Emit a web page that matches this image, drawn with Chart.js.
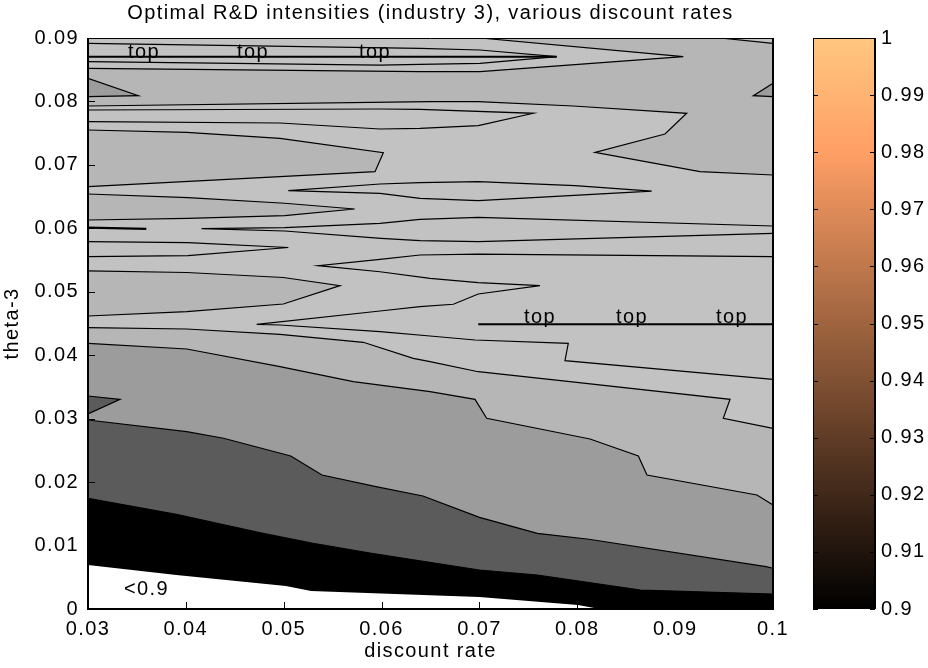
<!DOCTYPE html>
<html>
<head>
<meta charset="utf-8">
<title>Optimal R&amp;D intensities (industry 3)</title>
<script src="https://cdn.jsdelivr.net/npm/chart.js@4.4.1/dist/chart.umd.min.js"></script>
<style>
  html, body { margin: 0; padding: 0; background: #fff; }
  #wrap { position: relative; width: 928px; height: 668px; }
  #wrap canvas { position: absolute; left: 0; top: 0; }
</style>
</head>
<body>
<div id="wrap">
  <canvas id="contour" width="928" height="668"></canvas>
  <canvas id="colorbar" width="928" height="668"></canvas>
</div>
<script>
// axis ticks
const xTicks = [0.03, 0.04, 0.05, 0.06, 0.07, 0.08, 0.09, 0.1];
const yTicks = [0, 0.01, 0.02, 0.03, 0.04, 0.05, 0.06, 0.07, 0.08, 0.09];
const cbTicks = [0.9, 0.91, 0.92, 0.93, 0.94, 0.95, 0.96, 0.97, 0.98, 0.99, 1];

// contour lines, [discount rate, theta-3]
const bandL1 = [[0.03,0.00694],[0.03903,0.00536],[0.05023,0.00363],[0.05279,0.00284],[0.07,0.00189],[0.08007,0.00063],[0.0823,0]];
const bandL2 = [[0.03,0.01745],[0.03903,0.01493],[0.04752,0.01203],[0.05299,0.01036],[0.05897,0.00878],[0.07,0.00615],[0.07592,0.00536],[0.08646,0.00299],[0.1,0.00236]];
const bandL3 = [[0.03,0.02979],[0.04009,0.02795],[0.04385,0.02691],[0.05072,0.02412],[0.05391,0.02112],[0.05943,0.01928],[0.06423,0.01781],[0.07,0.01445],[0.07592,0.01193],[0.0812,0.01099],[0.09929,0.00667],[0.1,0.00642]];
const dipL3 = [[0.03,0.03357],[0.03327,0.03305],[0.03,0.03074]];
const bandL4 = [[0.03,0.04188],[0.04009,0.04098],[0.04962,0.03819],[0.05711,0.03583],[0.06495,0.03425],[0.06955,0.03305],[0.07074,0.03006],[0.0813,0.0268],[0.08624,0.02412],[0.08712,0.02112],[0.09836,0.01797],[0.1,0.01639]];
const bandL5 = [[0.03,0.04434],[0.04009,0.04413],[0.04962,0.0433],[0.05813,0.04204],[0.06324,0.03951],[0.06495,0.03898],[0.06988,0.0374],[0.07925,0.03583],[0.09561,0.03305],[0.09492,0.03006],[0.1,0.02848]];
const tongueD = [[0.03,0.05328],[0.04009,0.05304],[0.04996,0.05225],[0.05575,0.05096],[0.04996,0.04807],[0.04009,0.04686],[0.03,0.04618]];
const tongueE = [[0.03,0.05789],[0.04022,0.05774],[0.05047,0.05698],[0.04022,0.05569],[0.03,0.05553]];
const stubF = [[0.03,0.0601],[0.03596,0.0599]];
const tongueG = [[0.03,0.06541],[0.04022,0.06483],[0.0501,0.06395],[0.05725,0.06305],[0.0501,0.06199],[0.04022,0.06158],[0.03,0.06131]];
const tongueI = [[0.03,0.0755],[0.04009,0.07514],[0.04962,0.07419],[0.06018,0.07192],[0.05933,0.06893],[0.04962,0.06814],[0.03,0.06656]];
const tongueJ = [[0.03,0.07865],[0.05984,0.07881],[0.06393,0.07876],[0.07551,0.07813],[0.06988,0.07618],[0.06393,0.07577],[0.05984,0.07566],[0.04962,0.0766],[0.03,0.07681]];
const lineK = [[0.03,0.07928],[0.06495,0.07996],[0.06988,0.07996],[0.07959,0.07928],[0.09118,0.07813],[0.08896,0.07487],[0.08181,0.07198],[0.09254,0.06893],[0.1,0.06841]];
const outerTongue = [[0.07006,0.09],[0.09083,0.08705],[0.07006,0.08469],[0.06393,0.08469],[0.03,0.08522]];
const innerTongue = [[0.03,0.08916],[0.06393,0.08838],[0.07006,0.08811],[0.0779,0.08705],[0.07006,0.08601],[0.06393,0.08585],[0.05984,0.08574],[0.03,0.08627]];
const cornerTR = [[0.09458,0.09],[0.1,0.08916]];
const dipTopLeft = [[0.03,0.08365],[0.03514,0.08091],[0.03,0.08075]];
const dipTopRight = [[0.1,0.08286],[0.09799,0.08091],[0.1,0.08075]];
const lensH = [[0.05047,0.06593],[0.05984,0.06699],[0.06393,0.06719],[0.06988,0.06735],[0.07977,0.06672],[0.0876,0.06588],[0.06988,0.06436],[0.06393,0.06473],[0.05984,0.06552],[0.05047,0.06593]];
const tongueF = [[0.1,0.06037],[0.06988,0.06174],[0.06393,0.06142],[0.05984,0.06079],[0.0501,0.0601],[0.0416,0.05995],[0.0501,0.05958],[0.05994,0.05843],[0.06393,0.05805],[0.06988,0.05789],[0.1,0.05922]];
const snakeC = [[0.1,0.05553],[0.06988,0.05595],[0.06393,0.0558],[0.05984,0.05512],[0.05353,0.05411],[0.05984,0.05316],[0.06495,0.05212],[0.06988,0.05143],[0.07619,0.05096],[0.06988,0.04965],[0.06733,0.04803],[0.06393,0.04765],[0.05984,0.04697],[0.04724,0.04487],[0.04962,0.04476],[0.05984,0.04371],[0.06495,0.04303],[0.06955,0.0424],[0.07908,0.04188],[0.07874,0.03914],[0.1,0.0362]];
const topUpper = [[0.03,0.08705],[0.0779,0.08705]];
const topLower = [[0.06988,0.04487],[0.1,0.04487]];

// inline contour labels
const levelLabels = [
  [0.03572, 0.0869, 'top'], [0.04686, 0.0869, 'top'], [0.05933, 0.0869, 'top'],
  [0.07619, 0.0451, 'top'], [0.08559, 0.0451, 'top'], [0.09581, 0.0451, 'top'],
  [0.03598, 0.00221, '<0.9']
];

const FONT = '"Liberation Sans", Arial, Helvetica, sans-serif';
const SPACING = '1.4px';
const xMin = 0.03, xMax = 0.1, yMin = 0, yMax = 0.09;
const GRAY = { black: '#000000', dark: '#5b5b5b', mid: '#9c9c9c', light1: '#b6b6b6', light2: '#c2c2c2' };

const fmt = v => String(+Number(v).toFixed(3));
const toXY = pts => pts.map(([x, y]) => ({ x, y }));

// region above a contour line that runs from the left edge to the right or bottom edge
function above(line) {
  const last = line[line.length - 1];
  const tail = last[1] === yMin && last[0] < xMax ? [[xMax, yMin]] : [];
  return [...line, ...tail, [xMax, yMax], [xMin, yMax]];
}

const layers = [];
function addFill(pts, color) {
  layers.push({ data: toXY(pts), showLine: true, fill: 'shape', backgroundColor: color,
    borderWidth: 0, borderDash: [4, 0], pointRadius: 0 });
}
function addLine(pts, width) {
  layers.push({ data: toXY(pts), showLine: true, fill: false, borderColor: '#000',
    borderWidth: width || 1.2, pointRadius: 0 });
}

// filled bands, painted bottom to top
addFill(above(bandL1), GRAY.black);
addFill(above(bandL2), GRAY.dark);
addFill(above(bandL3), GRAY.mid);
addFill(dipL3, GRAY.dark);
addFill(above(bandL4), GRAY.light1);
addFill(above(bandL5), GRAY.light2);
addFill(tongueD, GRAY.light1);
addFill(tongueG, GRAY.light1);
addFill(tongueI, GRAY.light1);
addFill([...lineK, ...[...cornerTR].reverse(), ...outerTongue], GRAY.light1);
addFill(dipTopLeft, GRAY.mid);
addFill(dipTopRight, GRAY.mid);

// contour lines
[bandL2, bandL3, dipL3, bandL4, bandL5, tongueD, tongueE, tongueG, tongueI, tongueJ,
 lineK, outerTongue, innerTongue, cornerTR, dipTopLeft, dipTopRight, lensH, tongueF, snakeC]
  .forEach(l => addLine(l));
addLine(stubF, 2.2);
addLine(topUpper, 2);
addLine(topLower, 2);

layers.forEach((d, i) => { d.order = layers.length - i; });

const spacing = {
  id: 'spacing',
  beforeDraw(chart) { chart.ctx.letterSpacing = SPACING; }
};

const labelsAndFrame = {
  id: 'labelsAndFrame',
  afterDatasetsDraw(chart) {
    const { ctx, scales: { x, y } } = chart;
    ctx.save();
    ctx.font = '20px ' + FONT;
    ctx.fillStyle = '#000';
    ctx.textAlign = 'center';
    ctx.textBaseline = 'alphabetic';
    levelLabels.forEach(([vx, vy, t]) => ctx.fillText(t, x.getPixelForValue(vx), y.getPixelForValue(vy)));
    ctx.restore();
  },
  afterDraw(chart) {
    const { ctx, chartArea: a, scales: { x, y } } = chart;
    ctx.save();
    ctx.strokeStyle = '#000';
    ctx.lineWidth = 1;
    ctx.beginPath();
    ctx.moveTo(a.left, a.top + 0.5);
    ctx.lineTo(a.right, a.top + 0.5);
    ctx.stroke();
    ctx.lineWidth = 2;
    ctx.beginPath();
    ctx.moveTo(a.left, a.top);
    ctx.lineTo(a.left, a.bottom);
    ctx.lineTo(a.right, a.bottom);
    ctx.lineTo(a.right, a.top);
    ctx.stroke();
    ctx.lineWidth = 1;
    ctx.beginPath();
    xTicks.forEach(v => {
      const px = Math.round(x.getPixelForValue(v)) + 0.5;
      ctx.moveTo(px, a.bottom);
      ctx.lineTo(px, a.bottom - 7);
    });
    yTicks.forEach(v => {
      const py = Math.round(y.getPixelForValue(v)) + 0.5;
      ctx.moveTo(a.left, py);
      ctx.lineTo(a.left + 7, py);
    });
    ctx.stroke();
    ctx.restore();
  }
};

const tickFont = { family: FONT, size: 20 };

new Chart(document.getElementById('contour'), {
  type: 'scatter',
  data: { datasets: layers },
  options: {
    responsive: false,
    animation: false,
    events: [],
    layout: { padding: { left: 0, top: 0, right: 155, bottom: 0 } },
    elements: { point: { radius: 0 }, line: { tension: 0 } },
    plugins: {
      legend: { display: false },
      tooltip: { enabled: false },
      title: {
        display: true,
        text: 'Optimal R&D intensities (industry 3), various discount rates',
        fullSize: false,
        color: '#000',
        font: { family: FONT, size: 20, weight: 'normal' },
        padding: { top: 1.5, bottom: 12.5 }
      }
    },
    scales: {
      x: {
        type: 'linear', min: xMin, max: xMax,
        afterBuildTicks: s => { s.ticks = xTicks.map(value => ({ value })); },
        afterFit: s => { s.height = 59; },
        grid: { display: false, drawTicks: false },
        border: { display: false },
        ticks: { color: '#000', font: tickFont, padding: 8, maxRotation: 0, autoSkip: false, callback: fmt },
        title: { display: true, text: 'discount rate', color: '#000', font: tickFont, padding: { top: 0, bottom: 5 } }
      },
      y: {
        type: 'linear', min: yMin, max: yMax,
        afterBuildTicks: s => { s.ticks = yTicks.map(value => ({ value })); },
        afterFit: s => { s.width = 88; },
        grid: { display: false, drawTicks: false },
        border: { display: false },
        ticks: { color: '#000', font: tickFont, padding: 9, autoSkip: false, callback: fmt },
        title: { display: true, text: 'theta-3', color: '#000', font: tickFont, padding: { top: 0, bottom: 0 } }
      }
    }
  },
  plugins: [spacing, labelsAndFrame]
});

// copper colour map for the colour bar
function copper(t) {
  const r = Math.round(255 * Math.min(1, 1.25 * t));
  const g = Math.round(255 * 0.7812 * t);
  const b = Math.round(255 * 0.4975 * t);
  return `rgb(${r},${g},${b})`;
}

const cbFrame = {
  id: 'cbFrame',
  afterDraw(chart) {
    const { ctx, chartArea: a, scales: { y } } = chart;
    ctx.save();
    ctx.strokeStyle = '#000';
    ctx.lineWidth = 1;
    ctx.strokeRect(a.left + 0.5, a.top + 0.5, a.width - 1, a.height - 1);
    ctx.beginPath();
    cbTicks.forEach(v => {
      const py = Math.round(y.getPixelForValue(v)) + 0.5;
      ctx.moveTo(a.left, py); ctx.lineTo(a.left + 5, py);
      ctx.moveTo(a.right, py); ctx.lineTo(a.right - 5, py);
    });
    ctx.stroke();
    ctx.lineWidth = 2;
    ctx.beginPath();
    ctx.moveTo(a.right, a.top);
    ctx.lineTo(a.right, a.bottom);
    ctx.stroke();
    ctx.restore();
  }
};

new Chart(document.getElementById('colorbar'), {
  type: 'bar',
  data: {
    labels: [''],
    datasets: [{
      data: [[cbTicks[0], cbTicks[cbTicks.length - 1]]],
      barPercentage: 1,
      categoryPercentage: 1,
      borderWidth: 0,
      backgroundColor(c) {
        const area = c.chart.chartArea;
        if (!area) return '#000';
        const g = c.chart.ctx.createLinearGradient(0, area.bottom, 0, area.top);
        for (let i = 0; i <= 20; i++) g.addColorStop(i / 20, copper(i / 20));
        return g;
      }
    }]
  },
  options: {
    responsive: false,
    animation: false,
    events: [],
    layout: { padding: { left: 813, top: 38, right: 0, bottom: 59 } },
    plugins: { legend: { display: false }, tooltip: { enabled: false } },
    scales: {
      x: { display: false },
      y: {
        position: 'right', min: 0.9, max: 1,
        afterBuildTicks: s => { s.ticks = cbTicks.map(value => ({ value })); },
        afterFit: s => { s.width = 53; },
        grid: { display: false, drawTicks: false },
        border: { display: false },
        ticks: { color: '#000', font: tickFont, padding: 6, autoSkip: false, callback: fmt }
      }
    }
  },
  plugins: [spacing, cbFrame]
});
</script>
</body>
</html>
